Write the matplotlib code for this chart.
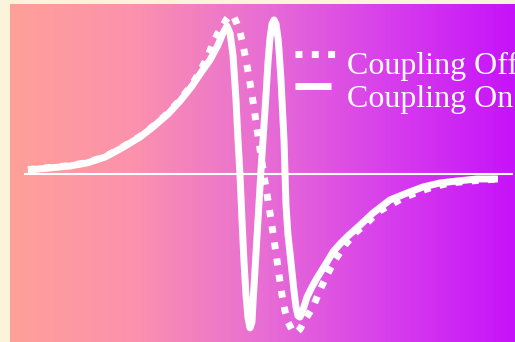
import matplotlib
matplotlib.use('Agg')
import matplotlib.pyplot as plt
import numpy as np
from matplotlib.lines import Line2D

OUTPUT_FILE = 'out.png'
FIG_W, FIG_H, DPI = 515, 342, 100

# field offset (arb. units) and signal amplitude (normalised)
X_OFF = [-4.68, -4.24, -3.84, -3.50, -3.14, -2.84, -2.44, -2.18, -1.88, -1.64,
         -1.40, -1.24, -1.10, -0.98, -0.88, -0.80, -0.72, -0.64, -0.56, -0.50,
         -0.44, -0.38, -0.32, -0.26, -0.20, -0.14, -0.08, -0.02, 0.04, 0.10,
         0.16, 0.22, 0.28, 0.34, 0.40, 0.46, 0.52, 0.60, 0.68, 0.76,
         0.86, 1.02, 1.16, 1.30, 1.46, 1.66, 1.86, 2.10, 2.32, 2.56,
         2.82, 3.12, 3.42, 3.76, 4.16, 4.72]
Y_OFF = [0.031, 0.044, 0.056, 0.075, 0.112, 0.162, 0.238, 0.301, 0.384, 0.466,
         0.563, 0.645, 0.728, 0.822, 0.884, 0.922, 0.966, 0.997, 0.984, 0.941,
         0.891, 0.809, 0.716, 0.609, 0.497, 0.372, 0.241, 0.116, -0.009, -0.122,
         -0.241, -0.366, -0.491, -0.628, -0.753, -0.853, -0.922, -0.972, -0.991, -0.966,
         -0.909, -0.828, -0.722, -0.628, -0.534, -0.441, -0.366, -0.303, -0.234, -0.191,
         -0.147, -0.109, -0.078, -0.053, -0.041, -0.028]

X_ON = [-4.68, -4.24, -3.84, -3.50, -3.14, -2.84, -2.44, -2.18, -1.88, -1.64,
        -1.40, -1.24, -1.04, -0.88, -0.78, -0.70, -0.64, -0.58, -0.52, -0.48,
        -0.44, -0.40, -0.36, -0.32, -0.28, -0.24, -0.20, -0.18, -0.14, -0.08,
        -0.02, 0.04, 0.08, 0.12, 0.16, 0.20, 0.24, 0.28, 0.32, 0.34,
        0.38, 0.40, 0.44, 0.48, 0.52, 0.56, 0.60, 0.64, 0.68, 0.72,
        0.76, 0.82, 0.90, 1.00, 1.10, 1.20, 1.30, 1.42, 1.56, 1.72,
        1.90, 2.22, 2.56, 2.90, 3.22, 3.56, 3.90, 4.30, 4.72]
Y_ON = [0.028, 0.041, 0.053, 0.072, 0.109, 0.159, 0.234, 0.297, 0.378, 0.459,
        0.553, 0.628, 0.716, 0.809, 0.884, 0.928, 0.884, 0.747, 0.466, 0.216,
        -0.003, -0.284, -0.547, -0.753, -0.897, -0.959, -0.922, -0.803, -0.597, -0.284,
        0.028, 0.309, 0.497, 0.703, 0.853, 0.941, 0.966, 0.941, 0.853, 0.778,
        0.591, 0.466, 0.216, -0.191, -0.378, -0.491, -0.609, -0.728, -0.828, -0.884,
        -0.891, -0.847, -0.766, -0.703, -0.647, -0.597, -0.547, -0.484, -0.434, -0.384,
        -0.334, -0.241, -0.159, -0.116, -0.078, -0.053, -0.041, -0.028, -0.028]

LABELS = ['Coupling Off', 'Coupling On']

BG_STOPS = [0.0, 0.24, 0.5, 0.75, 1.0]
BG_COLORS = [(255, 160, 152), (252, 146, 172), (232, 110, 212), (215, 62, 236), (198, 18, 250)]
CREAM = '#fbf4da'
LINE_W = 5
DOT_STYLE = (0, (1.0, 1.35))


def px(x, y):
    # pixel position -> figure fraction
    return x / FIG_W, 1 - y / FIG_H


def draw_background(fig):
    bg = fig.add_axes([10 / FIG_W, 0, 1 - 10 / FIG_W, 1 - 4 / FIG_H])
    t = np.linspace(0, 1, 505)
    cols = np.array(BG_COLORS) / 255
    grad = np.stack([np.interp(t, BG_STOPS, cols[:, i]) for i in range(3)], axis=-1)
    bg.imshow(grad[np.newaxis, :, :], aspect='auto', extent=(0, 1, 0, 1))
    bg.set_axis_off()


def main():
    fig = plt.figure(figsize=(FIG_W / DPI, FIG_H / DPI), dpi=DPI, facecolor=CREAM)
    draw_background(fig)

    ax = fig.add_axes([0, 0, 1, 1])
    ax.patch.set_alpha(0)
    ax.set_xlim(-5.24, 5.06)
    ax.set_ylim(-1.047, 1.0906)
    ax.set_axis_off()

    ax.axhline(0, xmin=25 / FIG_W, xmax=512 / FIG_W, color='white', lw=1.5)
    ax.plot(X_OFF, Y_OFF, color='white', lw=LINE_W, linestyle=DOT_STYLE,
            dash_capstyle='butt')
    ax.plot(X_ON, Y_ON, color='white', lw=LINE_W, solid_joinstyle='round',
            solid_capstyle='butt')

    # legend, drawn by hand so the samples sit at cap height like the original
    for i, (label, style) in enumerate(zip(LABELS, [DOT_STYLE, '-'])):
        y_line = 53.5 + 32 * i
        (x0, y0), (x1, _) = px(295, y_line), px(335 if i == 0 else 331, y_line)
        fig.add_artist(Line2D([x0, x1], [y0, y0], transform=fig.transFigure,
                              color='white', lw=LINE_W, linestyle=style,
                              dash_capstyle='butt', solid_capstyle='butt'))
        tx, ty = px(347, 74 + 33.3 * i)
        fig.text(tx, ty, label, color='white', fontsize=23, va='baseline',
                 family=['Liberation Serif', 'DejaVu Serif'])

    fig.savefig(OUTPUT_FILE, dpi=DPI, facecolor=CREAM)
    plt.close(fig)


if __name__ == '__main__':
    main()
